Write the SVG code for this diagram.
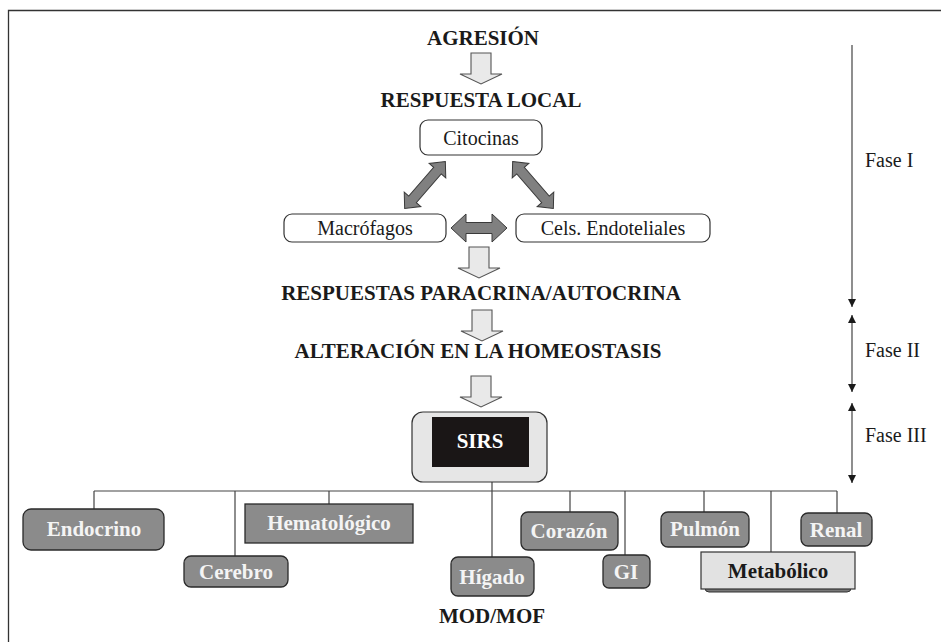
<svg xmlns="http://www.w3.org/2000/svg" width="941" height="642" viewBox="0 0 941 642" font-family="Liberation Serif, DejaVu Serif, serif">
<defs>
<style>
.h{font-weight:bold;font-size:21px;fill:#1a1a1a;text-anchor:middle}
.r{font-size:20px;fill:#1a1a1a;text-anchor:middle}
.f{font-size:20px;fill:#1a1a1a}
.o{font-weight:bold;font-size:21px;fill:#f4f4f4;text-anchor:middle}
.wb{fill:#fff;stroke:#333;stroke-width:1.2}
.ob{fill:#8b8b8b;stroke:#2a2a2a;stroke-width:1.3}
.blk{fill:#e9e9e9;stroke:#555;stroke-width:1.1}
.dbl{fill:#808080;stroke:#3a3a3a;stroke-width:1}
.ln{stroke:#444;stroke-width:1.2;fill:none}
</style>
<path id="down" d="M-10,0 H10 V21 H21 L0,31 L-21,21 H-10 Z"/>
<marker id="ah" viewBox="0 0 10 10" refX="10" refY="5" markerWidth="8" markerHeight="9" markerUnits="userSpaceOnUse" orient="auto-start-reverse">
<path d="M0,0 L10,5 L0,10 Z" fill="#1a1a1a"/>
</marker>
</defs>
<rect width="941" height="642" fill="#fff"/>
<path d="M8.5,642 V10.5 H941" fill="none" stroke="#333" stroke-width="1.3"/>

<g id="connectors">
<use href="#down" class="blk" transform="translate(481,53)"/>
<use href="#down" class="blk" transform="translate(479,247)"/>
<use href="#down" class="blk" transform="translate(482,310)"/>
<use href="#down" class="blk" transform="translate(481,376)"/>
<polygon class="dbl" transform="translate(425,185) rotate(131)" points="-31,0 -19,-11 -19,-5 19,-5 19,-11 31,0 19,11 19,5 -19,5 -19,11"/>
<polygon class="dbl" transform="translate(533,185) rotate(49)" points="-31,0 -19,-11 -19,-5 19,-5 19,-11 31,0 19,11 19,5 -19,5 -19,11"/>
<polygon class="dbl" transform="translate(479,228)" points="-28,0 -13,-14 -13,-5.5 13,-5.5 13,-14 28,0 13,14 13,5.5 -13,5.5 -13,14"/>
<path class="ln" d="M94,491 H837 M94,491 V509 M235,491 V556 M329,491 V504 M492,482 V557 M570,491 V512 M625,491 V555 M704,491 V512 M771,491 V552 M837,491 V513"/>
<line x1="852" y1="45" x2="852" y2="307" stroke="#444" stroke-width="1.2" marker-end="url(#ah)"/>
<line x1="852" y1="315" x2="852" y2="392" stroke="#444" stroke-width="1.2" marker-start="url(#ah)" marker-end="url(#ah)"/>
<line x1="852" y1="403" x2="852" y2="483" stroke="#444" stroke-width="1.2" marker-start="url(#ah)" marker-end="url(#ah)"/>
</g>

<g id="agresion"><text class="h" x="483" y="45">AGRESIÓN</text></g>
<g id="respuesta-local"><text class="h" x="481" y="107">RESPUESTA LOCAL</text></g>
<g id="citocinas"><rect class="wb" x="420" y="120" width="122" height="35" rx="8"/><text class="r" x="481" y="145">Citocinas</text></g>
<g id="macrofagos"><rect class="wb" x="284" y="214" width="162" height="28" rx="8"/><text class="r" x="365" y="235">Macrófagos</text></g>
<g id="endoteliales"><rect class="wb" x="516" y="214" width="194" height="28" rx="8"/><text class="r" x="613" y="235">Cels. Endoteliales</text></g>
<g id="paracrina"><text class="h" x="481" y="300">RESPUESTAS PARACRINA/AUTOCRINA</text></g>
<g id="homeostasis"><text class="h" x="478" y="358">ALTERACIÓN EN LA HOMEOSTASIS</text></g>
<g id="sirs"><rect x="412" y="412" width="135" height="70" rx="11" fill="#e6e6e6" stroke="#333" stroke-width="1.2"/><rect x="432" y="417" width="97" height="50" fill="#1a1616"/><text class="o" x="480" y="448" style="fill:#fff">SIRS</text></g>

<g id="endocrino"><rect class="ob" x="23" y="509" width="141" height="41" rx="8"/><text class="o" x="94" y="536">Endocrino</text></g>
<g id="cerebro"><rect class="ob" x="184" y="556" width="104" height="31" rx="7"/><text class="o" x="236" y="579">Cerebro</text></g>
<g id="hematologico"><rect class="ob" x="245" y="504" width="168" height="39"/><text class="o" x="329" y="530">Hematológico</text></g>
<g id="higado"><rect class="ob" x="451" y="557" width="83" height="39" rx="7"/><text class="o" x="492" y="584">Hígado</text></g>
<g id="corazon"><rect class="ob" x="521" y="512" width="97" height="38" rx="7"/><text class="o" x="569" y="538">Corazón</text></g>
<g id="gi"><rect class="ob" x="603" y="555" width="47" height="33" rx="6"/><text class="o" x="626" y="579">GI</text></g>
<g id="pulmon"><rect class="ob" x="661" y="512" width="88" height="35" rx="7"/><text class="o" x="705" y="536">Pulmón</text></g>
<g id="metabolico"><rect x="705" y="555" width="146" height="37" rx="4" fill="#777" stroke="#333" stroke-width="1"/><rect x="701" y="552" width="154" height="37" fill="#e2e2e2" stroke="#333" stroke-width="1.2"/><text class="h" x="778" y="578">Metabólico</text></g>
<g id="renal"><rect class="ob" x="801" y="513" width="71" height="33" rx="7"/><text class="o" x="836" y="537">Renal</text></g>
<g id="modmof"><text class="h" x="492" y="623">MOD/MOF</text></g>

<g id="fases">
<text class="f" x="865" y="167">Fase I</text>
<text class="f" x="865" y="357">Fase II</text>
<text class="f" x="865" y="442">Fase III</text>
</g>
</svg>
